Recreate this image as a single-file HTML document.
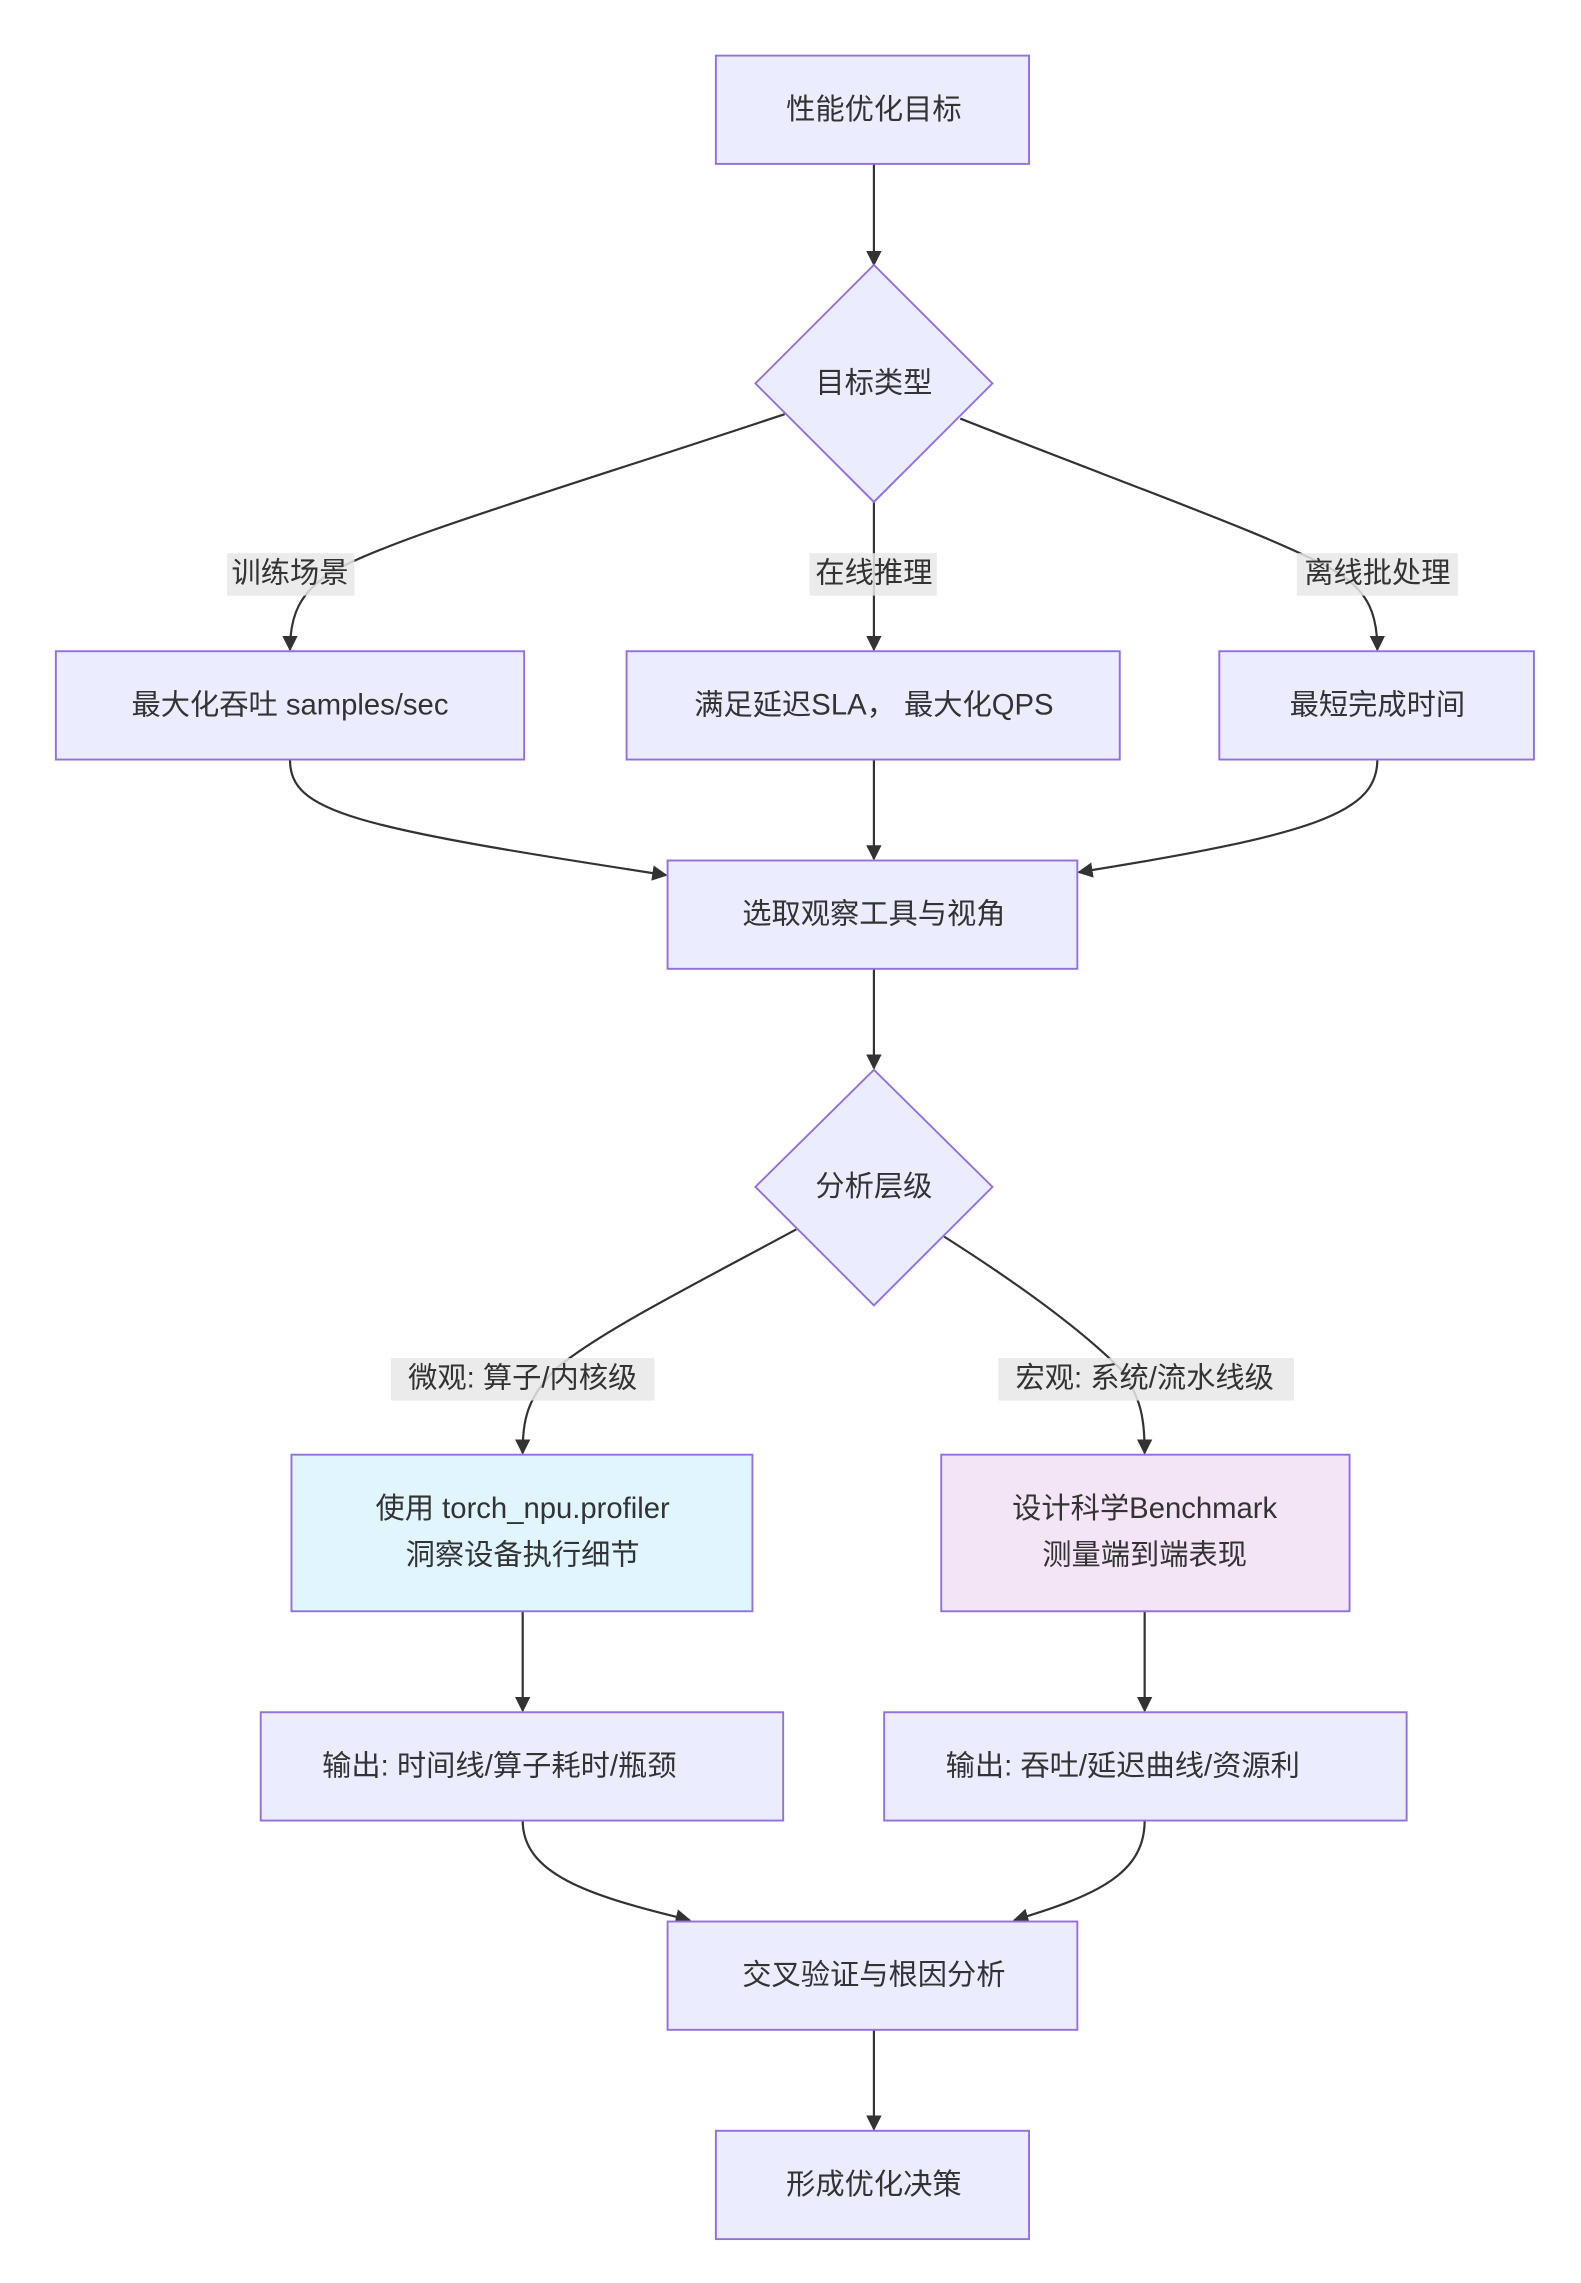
<!DOCTYPE html>
<html><head><meta charset="utf-8"><style>
html,body{margin:0;padding:0;background:#fff;}
svg{display:block;}
text{font-family:"Liberation Sans","Noto Sans CJK SC",sans-serif;font-size:20px;fill:#333;text-anchor:middle;dominant-baseline:central;}
.n{fill:#ECECFF;stroke:#9370DB;stroke-width:1.3;}
.e{fill:none;stroke:#333;stroke-width:1.5;}
.lb{fill:rgba(232,232,232,0.85);}
</style></head><body>
<svg width="1581" height="2283" viewBox="0 0 1080 1560" xmlns="http://www.w3.org/2000/svg">
<defs>
<marker id="a" viewBox="0 0 10 10" refX="9" refY="5" markerWidth="7" markerHeight="7" orient="auto"><path d="M0,0 L10,5 L0,10 z" fill="#333"/></marker>
<clipPath id="c1"><rect x="178" y="1170" width="357" height="74"/></clipPath>
<clipPath id="c2"><rect x="604" y="1170" width="357" height="74"/></clipPath>
</defs>
<!-- edges -->
<path class="e" marker-end="url(#a)" d="M597,112 L597,181"/>
<path class="e" marker-end="url(#a)" d="M536,283 C380,335 260,370 225,392 C205,405 198,420 198,444"/>
<path class="e" marker-end="url(#a)" d="M597,343 L597,444"/>
<path class="e" marker-end="url(#a)" d="M656,286 C780,335 880,370 915,392 C935,405 941,420 941,444"/>
<path class="e" marker-end="url(#a)" d="M198,519 C198,555 240,565 455,598"/>
<path class="e" marker-end="url(#a)" d="M597,519 L597,587"/>
<path class="e" marker-end="url(#a)" d="M941,519 C941,555 900,570 737,596"/>
<path class="e" marker-end="url(#a)" d="M597,662 L597,730"/>
<path class="e" marker-end="url(#a)" d="M544,840 C470,880 410,910 380,935 C360,955 357,970 357,993"/>
<path class="e" marker-end="url(#a)" d="M645,845 C700,880 740,910 765,935 C780,955 782,970 782,993"/>
<path class="e" marker-end="url(#a)" d="M357,1101 L357,1169"/>
<path class="e" marker-end="url(#a)" d="M782,1101 L782,1169"/>
<path class="e" marker-end="url(#a)" d="M357,1244 C357,1280 400,1295 471,1312"/>
<path class="e" marker-end="url(#a)" d="M782,1244 C782,1280 750,1295 693,1312"/>
<path class="e" marker-end="url(#a)" d="M597,1387 L597,1455"/>
<!-- nodes -->
<rect class="n" x="489" y="38" width="214" height="74"/><text x="597" y="75">性能优化目标</text>
<polygon class="n" points="597,181 678,262 597,343 516,262"/><text x="597" y="262">目标类型</text>
<rect class="lb" x="155" y="378" width="87" height="29"/><text x="198" y="392">训练场景</text>
<rect class="lb" x="553" y="378" width="87" height="29"/><text x="597" y="392">在线推理</text>
<rect class="lb" x="886" y="378" width="110" height="29"/><text x="941" y="392">离线批处理</text>
<rect class="n" x="38" y="445" width="320" height="74"/><text x="198" y="482">最大化吞吐 samples/sec</text>
<rect class="n" x="428" y="445" width="337" height="74"/><text x="597" y="482">满足延迟SLA， 最大化QPS</text>
<rect class="n" x="833" y="445" width="215" height="74"/><text x="941" y="482">最短完成时间</text>
<rect class="n" x="456" y="588" width="280" height="74"/><text x="597" y="625">选取观察工具与视角</text>
<polygon class="n" points="597,731 678,811 597,892 516,811"/><text x="597" y="811">分析层级</text>
<rect class="lb" x="267" y="928" width="180" height="29"/><text x="357" y="942">微观: 算子/内核级</text>
<rect class="lb" x="682" y="928" width="202" height="29"/><text x="782" y="942">宏观: 系统/流水线级</text>
<rect x="199" y="994" width="315" height="107" fill="#e1f5fe" stroke="#9370DB" stroke-width="1.3"/>
<text x="357" y="1031">使用 torch_npu.profiler</text><text x="357" y="1063">洞察设备执行细节</text>
<rect x="643" y="994" width="279" height="107" fill="#f3e5f5" stroke="#9370DB" stroke-width="1.3"/>
<text x="782" y="1031">设计科学Benchmark</text><text x="782" y="1063">测量端到端表现</text>
<rect class="n" x="178" y="1170" width="357" height="74"/>
<g clip-path="url(#c1)"><text x="220" y="1207" style="text-anchor:start">输出: 时间线/算子耗时/瓶颈</text></g>
<rect class="n" x="604" y="1170" width="357" height="74"/>
<g clip-path="url(#c2)"><text x="646" y="1207" style="text-anchor:start">输出: 吞吐/延迟曲线/资源利</text></g>
<rect class="n" x="456" y="1313" width="280" height="74"/><text x="597" y="1350">交叉验证与根因分析</text>
<rect class="n" x="489" y="1456" width="214" height="74"/><text x="597" y="1493">形成优化决策</text>
</svg>
</body></html>
